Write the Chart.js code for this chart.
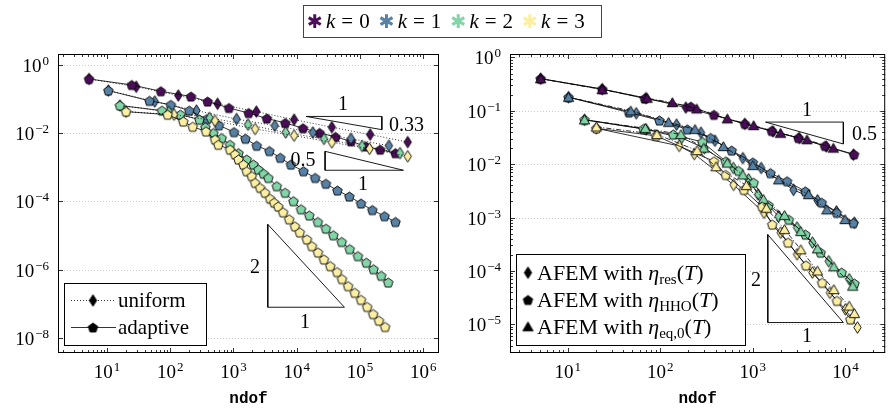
<!DOCTYPE html>
<html>
<head>
<meta charset="utf-8">
<script src="https://cdn.jsdelivr.net/npm/chart.js@4/dist/chart.umd.min.js"></script>
<style>
  body { margin: 0; background: #fff; width: 890px; height: 410px; position: relative; overflow: hidden; }
  #c1 { position: absolute; left: 0; top: 0; }
  #c2 { position: absolute; left: 445px; top: 0; }
  #leg { position: absolute; left: 303px; top: 5px; width: 297px; height: 31px; border: 1px solid #444;
         font-family: "Liberation Serif", serif; font-size: 21px; }
  #leg span.item { position: absolute; top: 3px; line-height: 24px; white-space: nowrap; }
  #leg span.ast { font-family: "DejaVu Sans", sans-serif; font-size: 19px; font-weight: bold; display: inline-block; width: 14px; margin-left: -7px; margin-right: 5px; text-align: center; }
  #leg span.eq { margin: 0 6px; }
</style>
</head>
<body>
<canvas id="c1" width="445" height="410"></canvas>
<canvas id="c2" width="445" height="410"></canvas>
<div id="leg"></div>
<script>
// polynomial degrees and their colours
const kLabels = ['0', '1', '2', '3'];
const kColors = ['#4b0d59', '#5782a6', '#82d5a7', '#fcefa2'];

// left plot: uniform and adaptive refinement, [ndof, error]
const uni0 = [[5.2,0.39],[29,0.23],[134,0.127],[560,0.073],[2300,0.043],[9100,0.025],[36000,0.015],[145000,0.0091],[570000,0.0055]];
const ada0 = [[5.2,0.39],[24.6,0.26],[71,0.17],[213,0.119],[390,0.085],[850,0.055],[1740,0.039],[3370,0.027],[6600,0.020],[12600,0.014],[23000,0.0102],[41000,0.0078],[72000,0.0058],[124000,0.0041],[209000,0.0033],[364000,0.0026]];
const uni1 = [[10.5,0.178],[57,0.085],[260,0.046],[1120,0.026],[4500,0.0166],[18000,0.0105],[72000,0.0069],[287000,0.0043]];
const ada1 = [[10.5,0.178],[47,0.089],[102,0.068],[200,0.046],[380,0.026],[590,0.017],[1020,0.0108],[1550,0.0069],[2330,0.0043],[3700,0.0030],[5500,0.0019],[8100,0.0012],[12800,0.00077],[19600,0.00049],[29000,0.00033],[44000,0.00021],[68000,0.00014],[104000,0.000087],[157000,0.000056],[245000,0.000037],[365000,0.000025]];
const uni2 = [[16,0.065],[95,0.042],[420,0.028],[1700,0.0178],[6700,0.0105],[27000,0.0068],[108000,0.0042],[430000,0.0026]];
const ada2 = [[16,0.065],[74,0.046],[145,0.035],[290,0.025],[360,0.015],[480,0.0101],[650,0.0072],[880,0.0046],[1200,0.0026],[1620,0.0017],[2070,0.0012],[2480,0.00086],[3000,0.00065],[3560,0.00049],[4840,0.00028],[6550,0.00018],[8870,0.000102],[11700,0.000059],[15800,0.000039],[21600,0.000025],[29000,0.000016],[38000,0.0000102],[51500,0.0000065],[69000,0.000004],[93000,0.0000025],[126000,0.0000016],[164000,0.00000103],[217000,0.00000066],[280000,0.00000042]];
const uni3 = [[20,0.043],[115,0.035],[510,0.023],[2200,0.0133],[9100,0.0085],[36000,0.0054],[142000,0.0035],[570000,0.0021]];
const ada3 = [[20,0.043],[91,0.035],[161,0.022],[227,0.0155],[368,0.0113],[512,0.0065],[577,0.0046],[883,0.0033],[1060,0.0024],[1200,0.0017],[1440,0.0012],[1620,0.00077],[1950,0.00055],[2200,0.00035],[2640,0.00025],[3160,0.00018],[3800,0.00012],[4400,0.000092],[5100,0.000071],[6100,0.000048],[7600,0.00003],[9400,0.0000186],[11200,0.0000124],[14500,0.0000077],[17400,0.0000049],[21700,0.0000032],[27000,0.000002],[34000,0.00000127],[43500,0.00000085],[52000,0.00000053],[65000,0.00000033],[83000,0.00000021],[104000,0.00000013],[130000,0.000000081],[162000,0.00000005],[200000,0.000000032],[250000,0.000000021]];

// right plot: AFEM with three estimators, [ndof, error]
const res0 = [[5.1,0.40],[23.6,0.255],[70,0.173],[189,0.115],[820,0.057],[1650,0.041],[3170,0.031],[6200,0.0215],[12200,0.0151]];
const hho0 = [[5.1,0.40],[23.6,0.255],[68,0.17],[214,0.12],[380,0.084],[820,0.057],[1600,0.042],[3100,0.031],[6000,0.022],[12400,0.0153]];
const eqz0 = [[5.1,0.40],[23.6,0.25],[72,0.172],[135,0.143],[248,0.109],[530,0.071],[1020,0.053],[1990,0.038],[3840,0.0288],[7400,0.020]];
const res1 = [[10.2,0.18],[55,0.09],[150,0.055],[275,0.039],[390,0.0275],[780,0.013],[1230,0.0085],[2750,0.0033],[5000,0.0021],[8000,0.0013],[12500,0.0008]];
const hho1 = [[10.2,0.18],[46,0.093],[98,0.066],[196,0.045],[350,0.031],[590,0.018],[1000,0.0108],[1550,0.0068],[2340,0.0048],[3690,0.0031],[5550,0.0019],[8050,0.00123],[12200,0.00079]];
const eqz1 = [[10.2,0.18],[48,0.10],[123,0.061],[237,0.045],[480,0.0215],[1000,0.0095],[1900,0.0051],[4000,0.0027],[6300,0.0014],[9900,0.00092]];
const res2 = [[15.2,0.068],[70,0.045],[170,0.031],[300,0.02],[615,0.0085],[900,0.0052],[1140,0.0027],[1900,0.00105],[3000,0.00065],[4400,0.00034],[6600,0.000152],[11000,0.00007]];
const hho2 = [[15.2,0.068],[66,0.046],[138,0.036],[285,0.026],[510,0.0113],[700,0.0075],[1020,0.0045],[1480,0.0017],[2450,0.00091],[3700,0.00048],[5400,0.00022],[9100,0.000093],[12500,0.000058]];
const eqz2 = [[15.2,0.068],[69,0.047],[167,0.036],[295,0.02],[530,0.0105],[780,0.0063],[1300,0.0022],[2200,0.0011],[3300,0.00055],[5000,0.00026],[7500,0.00012],[12000,0.000052]];
const res3 = [[20.4,0.047],[160,0.022],[233,0.0155],[620,0.0041],[1320,0.00123],[2000,0.00052],[3000,0.000205],[4400,0.000093],[6800,0.000039],[10000,0.000019],[13500,0.0000087]];
const hho3 = [[20.4,0.047],[90,0.034],[380,0.0113],[510,0.0063],[800,0.0033],[1260,0.0016],[1620,0.00074],[2400,0.00034],[3750,0.000127],[5600,0.00006],[8100,0.0000275],[11300,0.0000124]];
const eqz3 = [[20.4,0.05],[92,0.036],[250,0.018],[400,0.009],[850,0.004],[1400,0.0015],[2200,0.0006],[3300,0.00025],[5000,0.0001],[7500,0.000045],[11000,0.000022],[12500,0.000016]];

// slope triangles, [ndof, value] corners
const triL1 = [[14100,0.031],[222000,0.031],[222000,0.0127],[14100,0.031]];
const triL2 = [[28100,0.00294],[28100,0.00082],[488000,0.00082],[28100,0.00294]];
const triL3 = [[3490,2.13e-5],[3490,7.9e-8],[56900,7.9e-8],[3490,2.13e-5]];
const triR1 = [[1370,0.0615],[9500,0.0615],[9500,0.0239],[1370,0.0615]];
const triR2 = [[1450,0.00048],[1450,1.08e-5],[9500,1.08e-5],[1450,0.00048]];

const leftX = [1, 2, 3, 4, 5, 6];
const leftY = [0, -2, -4, -6, -8];
const rightX = [1, 2, 3, 4];
const rightY = [0, -1, -2, -3, -4, -5];

const F = '"Liberation Serif", serif';

function marker(shape, fill) {
  const c = document.createElement('canvas');
  c.width = 15; c.height = 15;
  const g = c.getContext('2d');
  g.translate(7.5, 7.5);
  g.beginPath();
  if (shape === 'pent') {
    for (let i = 0; i < 5; i++) {
      const a = -Math.PI / 2 + i * 2 * Math.PI / 5;
      g.lineTo(5 * Math.cos(a), 5 * Math.sin(a) + 0.5);
    }
  } else if (shape === 'dia') {
    g.moveTo(0, -5.8); g.lineTo(3.7, 0); g.lineTo(0, 5.8); g.lineTo(-3.7, 0);
  } else {
    for (let i = 0; i < 3; i++) {
      const a = -Math.PI / 2 + i * 2 * Math.PI / 3;
      g.lineTo(6 * Math.cos(a), 6 * Math.sin(a) + 1.2);
    }
  }
  g.closePath();
  g.fillStyle = fill; g.fill();
  g.lineWidth = 0.9; g.strokeStyle = '#000'; g.stroke();
  return c;
}

function ds(pts, mark, dash, ord) {
  return {
    data: pts.map(p => ({ x: p[0], y: p[1] })),
    showLine: true, borderColor: '#000', borderWidth: 0.8, borderDash: dash,
    pointStyle: mark, pointRadius: 4, pointHoverRadius: 4, order: ord
  };
}

function tri(pts) {
  return { data: pts.map(p => ({ x: p[0], y: p[1] })), showLine: true, borderColor: '#000',
    borderWidth: 0.9, pointRadius: 0, order: 100 };
}

function pow10(ctx, e, x, y, align) {
  const ex = e < 0 ? '\u2212' + (-e) : String(e);
  ctx.font = '19px ' + F; const wb = ctx.measureText('10').width;
  ctx.font = '13px ' + F; const we = ctx.measureText(ex).width;
  const x0 = align === 'right' ? x - wb - we - 1 : x - (wb + we + 1) / 2;
  ctx.fillStyle = '#000'; ctx.textAlign = 'left'; ctx.textBaseline = 'alphabetic';
  ctx.font = '19px ' + F; ctx.fillText('10', x0, y);
  ctx.font = '13px ' + F; ctx.fillText(ex, x0 + wb + 1, y - 7);
}

function text(ctx, t, x, y, align) {
  ctx.font = '20px ' + F; ctx.fillStyle = '#000';
  ctx.textAlign = align || 'center'; ctx.textBaseline = 'middle';
  ctx.fillText(t, x, y);
}

function estLabel(ctx, x, y, sub) {
  ctx.textAlign = 'left'; ctx.textBaseline = 'alphabetic'; ctx.fillStyle = '#000';
  let cx = x;
  const put = (t, font, dy) => { ctx.font = font; ctx.fillText(t, cx, y + (dy || 0)); cx += ctx.measureText(t).width; };
  put('AFEM with ', '22px ' + F);
  put('\u03b7', 'italic 22px ' + F);
  put(sub, '15px ' + F, 4);
  put('(', '22px ' + F);
  put('T', 'italic 22px ' + F);
  put(')', '22px ' + F);
}

function decor(cfg) {
  return {
    id: 'decor',
    beforeDatasetsDraw(chart) {
      const { ctx, chartArea: a } = chart, ys = chart.scales.y;
      ctx.save();
      ctx.strokeStyle = '#bdbdbd'; ctx.lineWidth = 0.8; ctx.setLineDash([1, 2]);
      cfg.yLab.forEach(e => {
        const py = Math.round(ys.getPixelForValue(10 ** e)) + 0.5;
        ctx.beginPath(); ctx.moveTo(a.left, py); ctx.lineTo(a.right, py); ctx.stroke();
      });
      ctx.restore();
    },
    afterDraw(chart) {
      const { ctx, chartArea: a } = chart, xs = chart.scales.x, ys = chart.scales.y;
      ctx.save();
      ctx.strokeStyle = '#000'; ctx.lineWidth = 0.8;
      // x ticks top and bottom
      for (let e = -1; e <= 7; e++) {
        for (let m = 1; m <= 9; m++) {
          const v = m * 10 ** e;
          if (v < xs.min || v > xs.max) continue;
          const px = Math.round(xs.getPixelForValue(v)) + 0.5, len = m === 1 ? 5 : 3;
          ctx.beginPath();
          ctx.moveTo(px, a.bottom); ctx.lineTo(px, a.bottom - len);
          ctx.moveTo(px, a.top); ctx.lineTo(px, a.top + len);
          ctx.stroke();
        }
      }
      // y ticks left and right
      for (let e = -10; e <= 1; e++) {
        for (let m = 1; m <= 9; m++) {
          const v = m * 10 ** e;
          if (v < ys.min || v > ys.max) continue;
          if (m > 1 && !cfg.yMinor) continue;
          if (m === 1 && !cfg.yLab.includes(e) && !cfg.yMinor) continue;
          const py = Math.round(ys.getPixelForValue(v)) + 0.5, len = m === 1 ? 5 : 3;
          ctx.beginPath();
          ctx.moveTo(a.left, py); ctx.lineTo(a.left + len, py);
          ctx.moveTo(a.right, py); ctx.lineTo(a.right - len, py);
          ctx.stroke();
        }
      }
      ctx.lineWidth = 1;
      ctx.strokeRect(a.left + 0.5, a.top + 0.5, a.right - a.left - 1, a.bottom - a.top - 1);
      cfg.xLab.forEach(e => pow10(ctx, e, xs.getPixelForValue(10 ** e), 377.5, 'center'));
      cfg.yLab.forEach(e => pow10(ctx, e, a.left - 9, ys.getPixelForValue(10 ** e) + 7, 'right'));
      ctx.font = 'bold 16px "Liberation Mono", monospace';
      ctx.textAlign = 'center'; ctx.textBaseline = 'alphabetic';
      ctx.fillText('ndof', (a.left + a.right) / 2, 403);
      cfg.extra(ctx);
      ctx.restore();
    }
  };
}

const blk = { pent: marker('pent', '#000'), dia: marker('dia', '#000'), tri: marker('tri', '#000') };

// left chart
const leftSets = [];
const uniL = [uni0, uni1, uni2, uni3], adaL = [ada0, ada1, ada2, ada3];
kColors.forEach((c, k) => {
  leftSets.push(ds(uniL[k], marker('dia', c), [1, 2], -(2 * k)));
  leftSets.push(ds(adaL[k], marker('pent', c), [], -(2 * k + 1)));
});
[triL1, triL2, triL3].forEach(t => leftSets.push(tri(t)));

new Chart(document.getElementById('c1'), {
  type: 'scatter',
  data: { datasets: leftSets },
  options: {
    responsive: false, animation: false, events: [],
    layout: { padding: { left: 58, top: 54, right: 6, bottom: 57 } },
    plugins: { legend: { display: false }, tooltip: { enabled: false } },
    scales: {
      x: { type: 'logarithmic', display: false, min: 1.68, max: 1.78e6 },
      y: { type: 'logarithmic', display: false, min: 3.6e-9, max: 2.1 }
    }
  },
  plugins: [decor({
    xLab: leftX, yLab: leftY, yMinor: false,
    extra(ctx) {
      text(ctx, '1', 343, 105); text(ctx, '0.33', 389, 126, 'left');
      text(ctx, '0.5', 303, 161); text(ctx, '1', 363, 185);
      text(ctx, '2', 255, 268); text(ctx, '1', 305, 323);
      ctx.fillStyle = '#fff'; ctx.fillRect(64, 283, 143, 62);
      ctx.strokeStyle = '#000'; ctx.lineWidth = 1; ctx.strokeRect(64.5, 283.5, 142, 62);
      ctx.lineWidth = 0.8;
      ctx.setLineDash([1, 2]);
      ctx.beginPath(); ctx.moveTo(71, 300.5); ctx.lineTo(116, 300.5); ctx.stroke();
      ctx.setLineDash([]);
      ctx.beginPath(); ctx.moveTo(71, 327.5); ctx.lineTo(116, 327.5); ctx.stroke();
      ctx.drawImage(blk.dia, 93 - 7.5, 300.5 - 7.5);
      ctx.drawImage(blk.pent, 93 - 7.5, 327.5 - 7.5);
      ctx.fillStyle = '#000'; ctx.font = '21px ' + F; ctx.textAlign = 'left'; ctx.textBaseline = 'alphabetic';
      ctx.fillText('uniform', 118, 306.5);
      ctx.fillText('adaptive', 118, 333.5);
    }
  })]
});

// right chart
const rightSets = [];
const resR = [res0, res1, res2, res3], hhoR = [hho0, hho1, hho2, hho3], eqR = [eqz0, eqz1, eqz2, eqz3];
kColors.forEach((c, k) => {
  rightSets.push(ds(resR[k], marker('dia', c), [], -(3 * k)));
  rightSets.push(ds(hhoR[k], marker('pent', c), [], -(3 * k + 1)));
  rightSets.push(ds(eqR[k], marker('tri', c), [5, 2, 1, 2], -(3 * k + 2)));
});
[triR1, triR2].forEach(t => rightSets.push(tri(t)));

new Chart(document.getElementById('c2'), {
  type: 'scatter',
  data: { datasets: rightSets },
  options: {
    responsive: false, animation: false, events: [],
    layout: { padding: { left: 65, top: 54, right: 3, bottom: 57 } },
    plugins: { legend: { display: false }, tooltip: { enabled: false } },
    scales: {
      x: { type: 'logarithmic', display: false, min: 2.38, max: 26900 },
      y: { type: 'logarithmic', display: false, min: 2.9e-6, max: 1.16 }
    }
  },
  plugins: [decor({
    xLab: rightX, yLab: rightY, yMinor: true,
    extra(ctx) {
      text(ctx, '1', 362, 111); text(ctx, '0.5', 407, 135, 'left');
      text(ctx, '2', 311, 281); text(ctx, '1', 362, 337);
      ctx.fillStyle = '#fff'; ctx.fillRect(71, 254, 230, 92);
      ctx.strokeStyle = '#000'; ctx.lineWidth = 1; ctx.strokeRect(71.5, 254.5, 229, 91);
      ctx.drawImage(blk.dia, 83 - 7.5, 272.7 - 7.5);
      ctx.drawImage(blk.pent, 83 - 7.5, 300 - 7.5);
      ctx.drawImage(blk.tri, 83 - 7.5, 326.7 - 7.5);
      estLabel(ctx, 92, 280, 'res');
      estLabel(ctx, 92, 307, 'HHO');
      estLabel(ctx, 92, 334, 'eq,0');
    }
  })]
});

// top legend for the polynomial degree
const leg = document.getElementById('leg');
kColors.forEach((c, k) => {
  const s = document.createElement('span');
  s.className = 'item';
  s.style.left = (314 - 304 + 71.7 * k) + 'px';
  s.innerHTML = '<span class="ast" style="color:' + c + '">\u2731</span><i>k</i><span class="eq">=</span>' + kLabels[k];
  leg.appendChild(s);
});
</script>
</body>
</html>
